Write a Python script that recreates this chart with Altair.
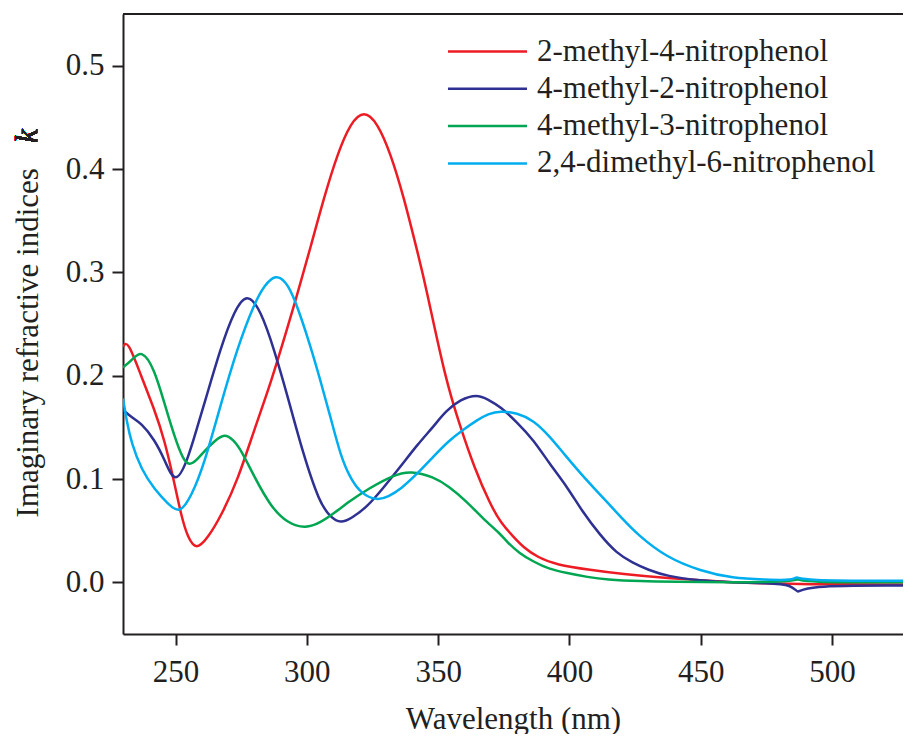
import altair as alt
import pandas as pd

series_names = ["2-methyl-4-nitrophenol", "4-methyl-2-nitrophenol",
                "4-methyl-3-nitrophenol", "2,4-dimethyl-6-nitrophenol"]
series_colors = ["#ED1C24", "#2E3192", "#00A651", "#00AEEF"]

red_wl = [230, 231.7, 237, 242, 245.8, 249.6, 252.2, 254.7, 257.9, 262.3, 267.3, 273.7, 280, 286.3,
          292.7, 296.5, 301.5, 306.6, 311.7, 316.7, 321.8, 326.8, 331.9, 336.9, 342, 345.2, 352.8,
          358.5, 363.6, 369.9, 374, 378.7, 382.4, 388, 395, 408, 420, 437, 450, 462, 475, 488, 527]
red_k = [0.228, 0.235, 0.199, 0.167, 0.138, 0.096, 0.064, 0.043, 0.031, 0.043, 0.064, 0.099, 0.148,
         0.193, 0.247, 0.280, 0.325, 0.373, 0.415, 0.445, 0.457, 0.445, 0.415, 0.373, 0.321, 0.288,
         0.196, 0.150, 0.112, 0.075, 0.057, 0.044, 0.034, 0.024, 0.017, 0.012, 0.008, 0.004, 0.002,
         0.0, -0.001, -0.002, -0.002]

blue_wl = [230, 233, 237, 242, 245.8, 249.9, 254.7, 258, 261, 267.3, 272.4, 277.2, 282.5, 287.6,
           292.7, 298.5, 304.8, 309, 312.9, 317, 323, 329, 335.7, 342, 348.3, 353, 358.5, 364.8,
           369, 373.7, 380, 386.3, 392.6, 399, 405, 411.6, 418, 424, 430, 437, 450, 462, 475, 485,
           487, 489, 527]
blue_k = [0.167, 0.160, 0.154, 0.138, 0.119, 0.093, 0.119, 0.148, 0.173, 0.228, 0.263, 0.281, 0.263,
          0.225, 0.180, 0.125, 0.077, 0.063, 0.057, 0.062, 0.073, 0.091, 0.112, 0.133, 0.151, 0.166,
          0.177, 0.182, 0.177, 0.170, 0.155, 0.138, 0.114, 0.093, 0.068, 0.046, 0.028, 0.019, 0.012,
          0.006, 0.0016, 0.0, -0.001, -0.002, -0.012, -0.003, -0.003]

green_wl = [230, 233, 237.2, 242, 245.8, 249.6, 252.8, 255.3, 258, 261, 265, 268.6, 272, 275, 280,
            286.3, 292.7, 299.6, 305.3, 310.4, 316, 323, 333.1, 339.5, 348.3, 354, 361, 367.3, 373.7,
            376.2, 381, 386.3, 392, 399, 407, 414, 427, 440, 460, 485, 487, 489, 527]
green_k = [0.208, 0.214, 0.226, 0.206, 0.173, 0.141, 0.119, 0.113, 0.118, 0.127, 0.137, 0.144, 0.138,
           0.128, 0.102, 0.073, 0.057, 0.052, 0.058, 0.067, 0.078, 0.090, 0.104, 0.108, 0.102, 0.093,
           0.078, 0.061, 0.047, 0.039, 0.028, 0.020, 0.013, 0.009, 0.005, 0.0026, 0.001, 0.0005, 0.0,
           0.0005, 0.004, 0.0, 0.0]

cyan_wl = [230, 231.5, 233.2, 237, 242, 247.1, 251.5, 256, 261, 267.3, 273.7, 280, 284, 288.2, 292,
           295.2, 301.5, 305.3, 309, 312.9, 316.5, 320.5, 326.8, 331, 335.7, 342, 348.3, 354, 359.7,
           364.8, 369, 373.7, 380, 386.3, 392.6, 398, 404, 411.6, 420, 426, 437, 450, 462,
           475, 485, 486.5, 488, 527]
cyan_k = [0.178, 0.155, 0.135, 0.109, 0.090, 0.076, 0.066, 0.083, 0.115, 0.173, 0.228, 0.270, 0.288,
          0.298, 0.291, 0.276, 0.228, 0.194, 0.160, 0.122, 0.101, 0.086, 0.079, 0.083, 0.090, 0.105,
          0.122, 0.137, 0.148, 0.157, 0.163, 0.166, 0.164, 0.157, 0.141, 0.124, 0.106, 0.085,
          0.062, 0.046, 0.024, 0.011, 0.004, 0.0026, 0.0018, 0.006, 0.0016, 0.0016]

x_ticks = [250, 300, 350, 400, 450, 500]
y_ticks = [0.0, 0.1, 0.2, 0.3, 0.4, 0.5]

rows = []
for name, wl, kv in zip(series_names, [red_wl, blue_wl, green_wl, cyan_wl],
                        [red_k, blue_k, green_k, cyan_k]):
    for w, v in zip(wl, kv):
        rows.append({"series": name, "wl": w, "k": v})
df = pd.DataFrame(rows)

W, H = 780, 620
FONT = "Liberation Serif"
INK = "#231F20"

lines = alt.Chart(df).mark_line(strokeWidth=2.5, interpolate="basis", clip=True).encode(
    x=alt.X("wl:Q", scale=alt.Scale(domain=[230, 527], nice=False, zero=False),
            axis=alt.Axis(values=x_ticks, title="Wavelength (nm)", format="d",
                          titlePadding=17)),
    y=alt.Y("k:Q", scale=alt.Scale(domain=[-0.05, 0.55], nice=False, zero=False),
            axis=alt.Axis(values=y_ticks, format=".1f", title="Imaginary refractive indices",
                          titleAlign="left", titleBaseline="alphabetic", titleAngle=270,
                          titleX=-86, titleY=503)),
    color=alt.Color("series:N", sort=series_names,
                    scale=alt.Scale(domain=series_names, range=series_colors),
                    legend=alt.Legend(title=None, orient="none", legendX=349, legendY=22,
                                      symbolType="M-5,0H5", symbolSize=250,
                                      symbolStrokeWidth=2.5, labelFont=FONT,
                                      labelFontSize=31, labelColor=INK, labelOffset=34,
                                      rowPadding=5.3, labelLimit=500)),
    detail="series:N",
)

top_border = alt.Chart(df).mark_rule(color=INK, strokeWidth=2).encode(
    x=alt.value(0), x2=alt.value(W), y=alt.value(0))

k_label = alt.Chart(df).mark_text(
    text="k", font=FONT, fontSize=31, fontStyle="italic", color=INK,
    angle=270, align="left", baseline="alphabetic").encode(
    x=alt.value(-86), y=alt.value(129))

chart = alt.layer(lines, top_border, k_label).properties(
    width=W, height=H,
    autosize=alt.AutoSizeParams(type="none"),
    padding={"left": 115, "top": 6, "right": 0, "bottom": 100},
).configure_view(stroke=None).configure_axis(
    labelFont=FONT, labelFontSize=31, labelColor=INK, titleFont=FONT, titleFontSize=31,
    titleColor=INK, titleFontWeight="normal", domainColor=INK, domainWidth=2, tickColor=INK,
    tickWidth=2, tickSize=11, labelPadding=8, grid=False,
).configure_axisX(labelPadding=12)

chart.save("out.html", embed_options={"renderer": "svg", "actions": False})
